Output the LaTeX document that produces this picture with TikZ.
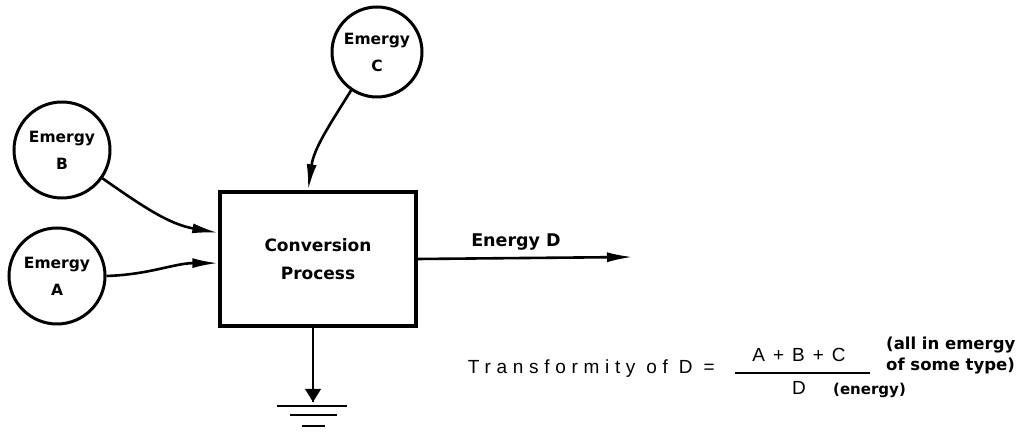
\documentclass[tikz,border=0pt]{standalone}
\usepackage{fontspec}
\setmainfont{Liberation Sans}
\newfontfamily\heavy{DejaVu Sans}
\newfontfamily\spaced{Liberation Sans}[LetterSpace=30]
\usetikzlibrary{arrows.meta,calc}
\begin{document}
\begin{tikzpicture}[x=1pt,y=1pt,
  pool/.style={circle, draw, line width=3pt, minimum size=96pt, inner sep=0pt, align=center,
    font=\heavy\bfseries\fontsize{15.5}{27}\selectfont},
  proc/.style={draw, line width=3.4pt, minimum width=196pt, minimum height=134pt, inner sep=0pt, align=center,
    font=\heavy\bfseries\fontsize{17}{28}\selectfont},
  flow/.style={line width=2.6pt, -{Latex[length=26pt,width=10pt]}},
  lab/.style={font=\heavy\bfseries\fontsize{17.5}{19}\selectfont, inner sep=0pt},
  eqn/.style={font=\spaced\fontsize{19}{21}\selectfont, inner sep=0pt},
  note/.style={font=\heavy\bfseries\fontsize{16.5}{18}\selectfont, inner sep=0pt, anchor=base west},
  gnd/.style={line width=2.6pt}
]
\useasboundingbox (0,0) rectangle (1033,441);
\node[pool, minimum size=90pt] (C) at (377,389) {Emergy\\C};
\node[pool] (B) at (62,291) {Emergy\\B};
\node[pool] (A) at (57,165) {Emergy\\A};
\node[proc] (P) at (318,182) {Conversion\\Process};

\coordinate (Cin) at ($(P.north west)!0.45!(P.north east)$);
\coordinate (Bin) at ($(P.north west)!0.31!(P.south west)$);
\coordinate (Ain) at ($(P.north west)!0.53!(P.south west)$);
\coordinate (Dend) at (633,184);
\coordinate (Gtop) at ($(P.south)+(-5,0)$);
\coordinate (Gtip) at (313,39);

\draw[flow] (C.236) to[out=238,in=82] (Cin);
\draw[flow] (B.-35) to[out=-35,in=170] (Bin);
\draw[flow] (A.east) to[out=2,in=180] (Ain);
\draw[flow] (P.east) -- (Dend);
\node[lab] (DL) at (516,199) {Energy D};

% heat sink
\draw[line width=2pt] (Gtop) -- (Gtip);
\fill (Gtip) -- ++(-8,13) -- ++(16,0) -- cycle;
\draw[gnd] ($(Gtip)+(-36,-4)$) -- ($(Gtip)+(34,-4)$);
\draw[gnd] ($(Gtip)+(-23,-13)$) -- ($(Gtip)+(24,-13)$);
\draw[gnd] ($(Gtip)+(-11,-24)$) -- ($(Gtip)+(12,-24)$);

% formula
\node[eqn, anchor=base east] (T) at (715,67) {Transformity of D =};
\coordinate (F1) at (735,68);
\coordinate (F2) at (870,68);
\draw[line width=1.8pt] (F1) -- (F2);
\node[eqn, anchor=base] (N) at (799,79) {A\hspace{8pt}+\hspace{8pt}B\hspace{8pt}+\hspace{8pt}C};
\node[eqn, anchor=base] (Dd) at (799,46) {D};
\node[note, font=\heavy\bfseries\fontsize{15}{17}\selectfont] (En) at (833,46) {(energy)};
\node[note] (N1) at (886,91) {(all in emergy};
\node[note] (N2) at (886,70) {of some type)};
\end{tikzpicture}
\end{document}
